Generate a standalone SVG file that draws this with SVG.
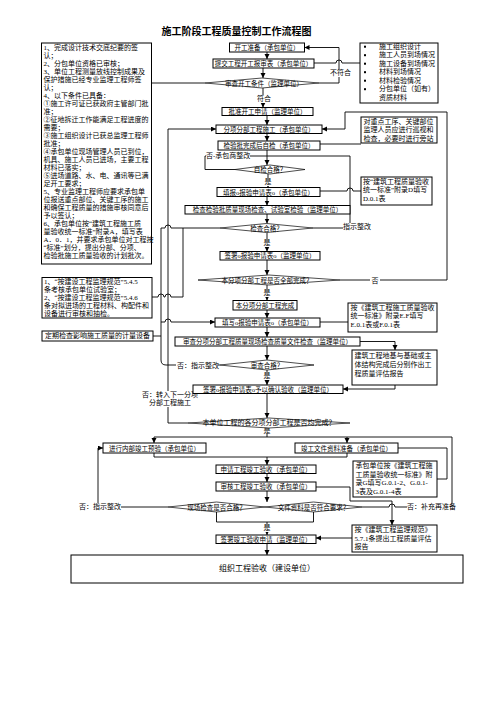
<svg xmlns="http://www.w3.org/2000/svg" width="504" height="713" viewBox="0 0 504 713">
<defs>
<marker id="ah" markerUnits="userSpaceOnUse" markerWidth="6" markerHeight="6" refX="5" refY="2.5" orient="auto"><path d="M0,0 L5,2.5 L0,5 z" fill="#000"/></marker>
</defs>
<style>
text{font-family:"Liberation Serif","Noto Sans CJK SC",serif;font-size:6.5px;fill:#000;dominant-baseline:central}
.box{fill:#fff;stroke:#000;stroke-width:1}
.dia{fill:#fff;stroke:#000;stroke-width:0.7}
.c{text-anchor:middle}
.s{font-size:7px}
.ln{fill:none;stroke:#000;stroke-width:0.9}
.arr{marker-end:url(#ah)}
.bg{fill:#fff}
.title{font-family:"Noto Sans CJK SC",sans-serif;font-weight:bold;font-size:10px}
</style>
<rect width="504" height="713" fill="#fff"/>
<text class="title c" x="236.5" y="30">施工阶段工程质量控制工作流程图</text>

<g id="connectors">
<path class="ln arr" d="M267,52 V59"/>
<path class="ln arr" d="M263,68 V78"/>
<path class="ln arr" d="M263,88 V107.5"/>
<path class="ln arr" d="M267,115.5 V125"/>
<path class="ln arr" d="M267,133.5 V141"/>
<path class="ln arr" d="M267,150 V165"/>
<path class="ln arr" d="M268,174 V187.5"/>
<path class="ln arr" d="M267,196.5 V205.5"/>
<path class="ln arr" d="M267,214 V223.5"/>
<path class="ln arr" d="M267,232.5 V251.5"/>
<path class="ln arr" d="M267,260 V275"/>
<path class="ln arr" d="M267,285 V300.5"/>
<path class="ln arr" d="M267,310 V318"/>
<path class="ln arr" d="M267,327 V337"/>
<path class="ln arr" d="M267,346 V360"/>
<path class="ln arr" d="M267,370 V385"/>
<path class="ln arr" d="M267,393.5 V418"/>
<path class="ln" d="M267,428 V437"/>
<path class="ln arr" d="M452,507 V437 H154 V443"/>
<path class="ln arr" d="M347,437 V443"/>
<path class="ln" d="M154,453 V457 H347 V453"/>
<path class="ln arr" d="M267,457 V465"/>
<path class="ln arr" d="M267,473.5 V482"/>
<path class="ln arr" d="M267,491 V502"/>
<path class="ln" d="M216.5,512 V522 H313.5 V512"/>
<path class="ln arr" d="M267,522 V535"/>
<path class="ln arr" d="M267,543.5 V555"/>
<path class="ln arr" d="M319,83 H339 V47.5 H304.5"/>
<path class="ln" d="M314,63 H336 a3,3 0 0 1 6,0 H360"/>
<path class="ln" d="M151.5,83 H205"/>
<path class="ln arr" d="M340,280 H447 V112 H345 V129 H322"/>
<path class="ln" d="M320,144 H361"/>
<path class="ln" d="M235,169.5 H205 V156 H267"/>
<path class="ln" d="M313,228 H350 V156 H267"/>
<path class="ln" d="M320,191 H347 a3,3 0 0 1 6,0 H361"/>
<path class="ln" d="M320,322 H348"/>
<path class="ln arr" d="M360,341.5 H395 V350"/>
<path class="ln arr" d="M395,385 V389 H343"/>
<path class="ln arr" d="M188,423 H168 V129 H216"/>
<path class="ln" d="M152,297 H158 a3,3 0 0 1 6,0 H165 a3,3 0 0 1 6,0 H183 V228 H220"/>
<path class="ln" d="M220,365 H166 Q161,365 161,360 V228 H165 a3,3 0 0 1 6,0 H183"/>
<path class="ln" d="M153,336 H161"/>
<path class="ln arr" d="M161,322 H165 a3,3 0 0 1 6,0 H215"/>
<path class="ln" d="M398,448 H447 V479 H437"/>
<path class="ln arr" d="M316,487 H350 V501 H392 V525"/>
<path class="ln arr" d="M352,538 H316"/>
<path class="ln" d="M362,507 H389 a3,3 0 0 1 6,0 H452"/>
<path class="ln" d="M168,507 H118"/>
<path class="ln arr" d="M98,503 V448 H103"/>
<rect class="bg" x="257" y="95" width="14" height="8"/><text class="c s" x="264" y="99">符合</text>
<rect class="bg" x="330" y="69" width="21" height="8"/><text class="c s" x="340.5" y="73">不符合</text>
<rect class="bg" x="206" y="152" width="44" height="8"/><text class="s" x="206" y="156">否-承包商整改</text>
<rect class="bg" x="263" y="178" width="10" height="8"/><text class="c s" x="268" y="181.5">是</text>
<rect class="bg" x="343" y="223" width="29" height="8"/><text class="s" x="343" y="227">指示整改</text>
<rect class="bg" x="262" y="239" width="10" height="8"/><text class="c s" x="267" y="243">是</text>
<rect class="bg" x="370" y="277" width="10" height="8"/><text class="c s" x="375" y="281">否</text>
<rect class="bg" x="262" y="289" width="10" height="8"/><text class="c s" x="267" y="293">是</text>
<rect class="bg" x="176" y="361" width="42" height="8"/><text class="s" x="177" y="365.5">否：指示整改</text>
<rect class="bg" x="262" y="372" width="10" height="8"/><text class="c s" x="267" y="376">是</text>
<rect class="bg" x="141" y="391" width="57" height="16"/><text class="c s" x="170" y="395">否：转入下一分项</text><text class="c s" x="170" y="403">分部工程施工</text>
<rect class="bg" x="262" y="427" width="10" height="7"/><text class="c s" x="267" y="430.5">是</text>
<rect class="bg" x="262" y="524" width="10" height="8"/><text class="c s" x="267" y="528">是</text>
<rect class="bg" x="79" y="503" width="42" height="8"/><text class="s" x="79" y="507">否：指示整改</text>
<rect class="bg" x="407" y="503" width="49" height="8"/><text class="s" x="407" y="507">否：补充再准备</text>
</g>

<g id="n-kaigong"><rect class="box" x="229.5" y="43" width="75" height="9"/><text class="c" x="267" y="47.5">开工准备（承包单位）</text></g>
<g id="n-tijiao"><rect class="box" x="213" y="59" width="101" height="9"/><text class="c" x="263.5" y="63.5">提交工程开工报审表（承包单位）</text></g>
<g id="d-shencha"><polygon class="dia" points="205,83 262,78 319,83 262,88"/><text class="c" x="264" y="83">审查开工条件（监理单位）</text></g>
<g id="n-pizhun"><rect class="box" x="222" y="107.5" width="91" height="8"/><text class="c" x="267.5" y="111.5">批准开工申请（监理单位）</text></g>
<g id="n-fenxiang"><rect class="box" x="216" y="125" width="106" height="8.5"/><text class="c" x="269" y="129.25">分项分部工程施工（承包单位）</text></g>
<g id="n-jianyanpi"><rect class="box" x="218" y="141" width="102" height="9"/><text class="c" x="269" y="145.5">检验批完成后自检（承包单位）</text></g>
<g id="d-zijian"><polygon class="dia" points="235,169.5 270,165 305,169.5 270,174"/><text class="c" x="270" y="169.5">自检合格？</text></g>
<g id="n-tianbao"><rect class="box" x="217" y="187.5" width="103" height="9"/><text class="c" x="268.5" y="192">填报o报验申请表o（承包单位）</text></g>
<g id="n-jiancha"><rect class="box" x="185" y="205.5" width="165" height="8.5"/><text class="c" x="267.5" y="209.75">检查检验批质量现场检查、试验室检验（监理单位）</text></g>
<g id="d-jiancha"><polygon class="dia" points="220,228 266.5,223.5 313,228 266.5,232.5"/><text class="c" x="266.5" y="228">检查合格？</text></g>
<g id="n-qianshu1"><rect class="box" x="220" y="251.5" width="100" height="8.5"/><text class="c" x="270" y="255.75">签署o报验申请表o（监理单位）</text></g>
<g id="d-quanbu"><polygon class="dia" points="198,280 269,275 340,280 269,285"/><text class="c" x="267" y="280">本分项分部工程是否全部完成？</text></g>
<g id="n-wancheng"><rect class="box" x="233" y="300.5" width="64" height="9.5"/><text class="c" x="265" y="305.25">本分项分部工程完成</text></g>
<g id="n-tianxie"><rect class="box" x="215" y="318" width="105" height="9"/><text class="c" x="267.5" y="322.5">填写o报验申请表o（承包单位）</text></g>
<g id="n-shencha2"><rect class="box" x="175" y="337" width="185" height="9"/><text class="c" x="267.5" y="341.5">审查分项分部工程质量现场检查质量文件检查（监理单位）</text></g>
<g id="d-shencha2"><polygon class="dia" points="220,365 267,360 314,365 267,370"/><text class="c" x="267" y="365">审查合格？</text></g>
<g id="n-qianshu2"><rect class="box" x="193" y="385" width="150" height="8.5"/><text class="c" x="268" y="389.25">签署o报验申请表o予以确认验收（监理单位）</text></g>
<g id="d-danwei"><polygon class="dia" points="188,423 269,418 350,423 269,428"/><text class="c s" x="269" y="423">本单位工程的各分项分部工程是否均完成？</text></g>
<g id="n-yuyan"><rect class="box" x="103" y="443" width="103" height="10"/><text class="c" x="154.5" y="448">进行内部竣工预验（承包单位）</text></g>
<g id="n-wenjian"><rect class="box" x="295" y="443" width="103" height="10"/><text class="c" x="346.5" y="448">竣工文件资料准备（承包单位）</text></g>
<g id="n-shenqing"><rect class="box" x="216" y="465" width="100" height="8.5"/><text class="c" x="266" y="469.25">申请工程竣工验收（承包单位）</text></g>
<g id="n-shenhe"><rect class="box" x="216" y="482" width="100" height="9"/><text class="c" x="266" y="486.5">审核工程竣工验收（承包单位）</text></g>
<g id="d-xianchang"><polygon class="dia" points="168,507 216.5,502 265,507 216.5,512"/><text class="c" x="216.5" y="507">现场检查是否合格？</text></g>
<g id="d-wenjian"><polygon class="dia" points="265,507 313.5,502 362,507 313.5,512"/><text class="c" x="313.5" y="507">文件资料是否符合要求？</text></g>
<g id="n-qianshu3"><rect class="box" x="216" y="535" width="100" height="8.5"/><text class="c" x="266" y="539.25">签署竣工验收申请（监理单位）</text></g>
<g id="n-zuzhi"><rect class="box" x="71" y="555" width="392" height="28"/><text class="c" x="267" y="568" style="font-size:8px">组织工程验收（建设单位）</text></g>

<g id="n-left1"><rect class="box" x="41.5" y="43" width="110" height="221"/>
<text class="s" x="43.5" y="48.3">1、完成设计技术交底纪要的签</text>
<text class="s" x="43.5" y="56.3">认；</text>
<text class="s" x="43.5" y="64.3">2、分包单位资格已审核；</text>
<text class="s" x="43.5" y="72.3">3、单位工程测量放线控制成果及</text>
<text class="s" x="43.5" y="80.3">保护措施已经专业监理工程师签</text>
<text class="s" x="43.5" y="88.3">认；</text>
<text class="s" x="43.5" y="96.3">4、以下条件已具备：</text>
<text class="s" x="43.5" y="104.3">①施工许可证已获政府主管部门批</text>
<text class="s" x="43.5" y="112.3">准；</text>
<text class="s" x="43.5" y="120.3">②征地拆迁工作能满足工程进度的</text>
<text class="s" x="43.5" y="128.3">需要；</text>
<text class="s" x="43.5" y="136.3">③施工组织设计已获总监理工程师</text>
<text class="s" x="43.5" y="144.3">批准；</text>
<text class="s" x="43.5" y="152.3">④承包单位现场管理人员已到位，</text>
<text class="s" x="43.5" y="160.3">机具、施工人员已进场，主要工程</text>
<text class="s" x="43.5" y="168.3">材料已落实；</text>
<text class="s" x="43.5" y="176.3">⑤进场道路、水、电、通讯等已满</text>
<text class="s" x="43.5" y="184.3">足开工要求；</text>
<text class="s" x="43.5" y="192.3">5、专业监理工程师应要求承包单</text>
<text class="s" x="43.5" y="200.3">位报送重点部位、关键工序的施工</text>
<text class="s" x="43.5" y="208.3">和确保工程质量的措施审核同意后</text>
<text class="s" x="43.5" y="216.3">予以签认；</text>
<text class="s" x="43.5" y="224.3">6、承包单位按“建筑工程施工质</text>
<text class="s" x="43.5" y="232.3">量验收统一标准”附录A，填写表</text>
<text class="s" x="43.5" y="240.3">A．0．1，并要求承包单位对工程按</text>
<text class="s" x="43.5" y="248.3">“标准”划分，提出分部、分项、</text>
<text class="s" x="43.5" y="256.3">检验批施工质量验收的计划批次。</text>
</g>
<g id="n-left2"><rect class="box" x="42" y="277.5" width="110" height="40.5"/>
<text class="s" x="44" y="281.5">1、“按建设工程监理规范”5.4.5</text>
<text class="s" x="44" y="289.5">条考核承包单位试验室；</text>
<text class="s" x="44" y="297.5">2、“按建设工程监理规范”5.4.6</text>
<text class="s" x="44" y="305.5">条对拟进场的工程材料、构配件和</text>
<text class="s" x="44" y="313.5">设备进行审核和抽检。</text>
</g>
<g id="n-left3"><rect class="box" x="42" y="331" width="111" height="10"/><text class="c s" x="97.5" y="336">定期检查影响施工质量的计量设备</text></g>

<g id="n-right1"><rect class="box" x="360" y="43" width="78" height="60"/>
<g fill="#000"><rect x="364" y="45.7" width="2" height="2"/><rect x="364" y="54.2" width="2" height="2"/><rect x="364" y="62.7" width="2" height="2"/><rect x="364" y="71.2" width="2" height="2"/><rect x="364" y="79.7" width="2" height="2"/><rect x="364" y="88.2" width="2" height="2"/></g>
<text class="s" x="379" y="46.7">施工组织设计</text>
<text class="s" x="379" y="55.2">施工人员到场情况</text>
<text class="s" x="379" y="63.7">施工设备到场情况</text>
<text class="s" x="379" y="72.2">材料到场情况</text>
<text class="s" x="379" y="80.7">材料检验情况</text>
<text class="s" x="379" y="89.2">分包单位（如有）</text>
<text class="s" x="379" y="97.7">资质材料</text>
</g>
<g id="n-right2"><rect class="box" x="361" y="117" width="76" height="26"/>
<text class="s" x="363.5" y="121.5">对重点工序、关键部位</text>
<text class="s" x="363.5" y="130">监理人员应进行巡视和</text>
<text class="s" x="363.5" y="138.5">检查，必要时进行旁站</text>
</g>
<g id="n-right3"><rect class="box" x="361" y="177" width="71" height="28"/>
<text class="s" x="363" y="181.5">按“建筑工程质量验收</text>
<text class="s" x="363" y="190">统一标准”附录D填写</text>
<text class="s" x="363" y="198.5">D.0.1表</text>
</g>
<g id="n-right4"><rect class="box" x="348" y="303" width="89" height="29"/>
<text class="s" x="350.5" y="307.5">按《建筑工程施工质量验收</text>
<text class="s" x="350.5" y="316">统一标准》附录E.F填写</text>
<text class="s" x="350.5" y="324.5">E.0.1表或F.0.1表</text>
</g>
<g id="n-right5"><rect class="box" x="352" y="350" width="85" height="35"/>
<text class="s" x="354.5" y="356">建筑工程地基与基础或主</text>
<text class="s" x="354.5" y="365">体结构完成后分别作出工</text>
<text class="s" x="354.5" y="374">程质量评估报告</text>
</g>
<g id="n-right6"><rect class="box" x="353" y="461" width="84" height="36"/>
<text class="s" x="355.5" y="466">承包单位按《建筑工程施</text>
<text class="s" x="355.5" y="474.5">工质量验收统一标准》附</text>
<text class="s" x="355.5" y="483">录G填写G.0.1-2、G.0.1-</text>
<text class="s" x="355.5" y="491.5">3表及G.0.1-4表</text>
</g>
<g id="n-right7"><rect class="box" x="352" y="525" width="85" height="27"/>
<text class="s" x="354.5" y="530">按《建筑工程监理规范》</text>
<text class="s" x="354.5" y="538.5">5.7.1条提出工程质量评估</text>
<text class="s" x="354.5" y="547">报告</text>
</g>
</svg>
